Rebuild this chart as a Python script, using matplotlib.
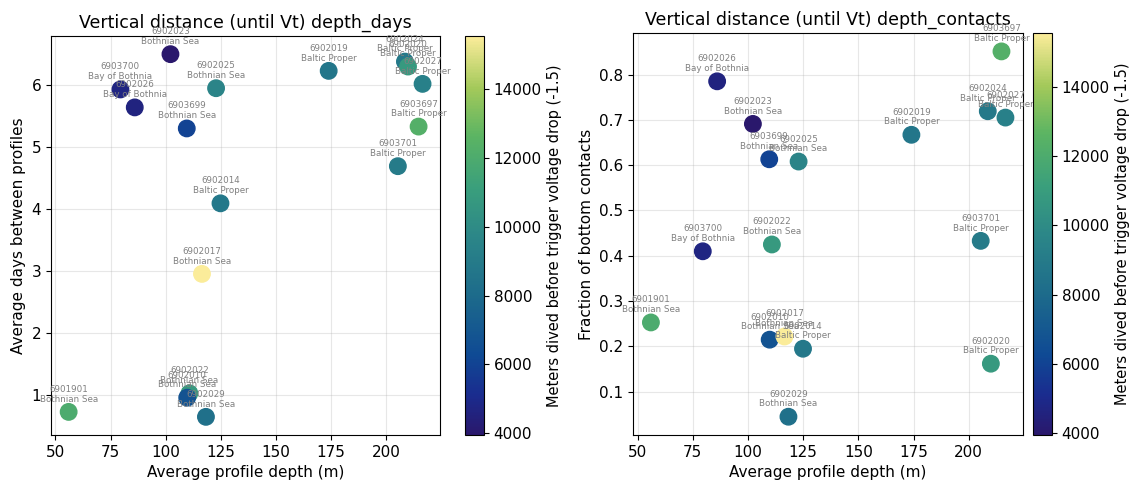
import numpy as np
import matplotlib.pyplot as plt
from matplotlib.colors import LinearSegmentedColormap

# float data: id, region, average profile depth, days between profiles,
# fraction of bottom contacts, meters dived before Vt trigger
float_ids = ["6901901", "6903700", "6902026", "6902023", "6903699", "6902022",
             "6902010", "6902017", "6902029", "6902025", "6902014", "6902019",
             "6903701", "6902024", "6902020", "6903697", "6902027"]
regions = ["Bothnian Sea", "Bay of Bothnia", "Bay of Bothnia", "Bothnian Sea",
           "Bothnian Sea", "Bothnian Sea", "Bothnian Sea", "Bothnian Sea",
           "Bothnian Sea", "Bothnian Sea", "Baltic Proper", "Baltic Proper",
           "Baltic Proper", "Baltic Proper", "Baltic Proper", "Baltic Proper",
           "Baltic Proper"]
depth = [56.0, 79.5, 86.0, 102.2, 109.6, 110.8, 109.8, 116.5, 118.3, 122.9,
         124.9, 174.0, 205.4, 208.6, 210.0, 214.8, 216.6]
days = [0.72, 5.93, 5.64, 6.50, 5.30, 1.02, 0.95, 2.95, 0.64, 5.95,
        4.09, 6.23, 4.69, 6.38, 6.30, 5.33, 6.02]
contacts = [0.253, 0.410, 0.785, 0.691, 0.613, 0.425, 0.215, 0.222, 0.045, 0.608,
            0.195, 0.667, 0.433, 0.719, 0.162, 0.851, 0.705]
meters_dived = [12000, 4700, 4600, 3950, 6000, 10800, 6800, 15550, 8300, 9600,
                8800, 8700, 9000, 8900, 10800, 12300, 9300]

# haline-like colormap (navy -> blue -> teal -> green -> pale yellow)
haline = LinearSegmentedColormap.from_list("haline", [
    (0.00, "#2a186c"), (0.10, "#1a2c8f"), (0.20, "#0f4a94"),
    (0.35, "#1d6b8b"), (0.50, "#2c8788"), (0.62, "#3a9f7c"),
    (0.75, "#5bb463"), (0.87, "#a3c95a"), (1.00, "#fbec9a")])

fig = plt.figure(figsize=(11.45, 4.83), dpi=100)

ax1 = fig.add_axes([0.0445, 0.0994, 0.340, 0.826])
cax1 = fig.add_axes([0.406, 0.0994, 0.0166, 0.826])
ax2 = fig.add_axes([0.553, 0.0994, 0.3406, 0.832])
cax2 = fig.add_axes([0.902, 0.0994, 0.0166, 0.832])

vmin, vmax = min(meters_dived), max(meters_dived)


def plot_panel(ax, cax, yvals, ylabel, title):
    sc = ax.scatter(depth, yvals, c=meters_dived, cmap=haline, s=140,
                    vmin=vmin, vmax=vmax, zorder=3)
    for fid, reg, x, y in zip(float_ids, regions, depth, yvals):
        ax.annotate(f"{fid}\n{reg}", (x, y), xytext=(0, 6),
                    textcoords="offset points", ha="center", va="bottom",
                    fontsize=6.3, color="gray", linespacing=1.1, zorder=4)
    ax.set_xlabel("Average profile depth (m)", fontsize=11)
    ax.set_ylabel(ylabel, fontsize=11)
    ax.set_title(title, fontsize=12.5)
    ax.grid(True, alpha=0.3)
    ax.set_xticks([50, 75, 100, 125, 150, 175, 200])
    ax.tick_params(labelsize=11)
    cb = fig.colorbar(sc, cax=cax)
    cb.set_label("Meters dived before trigger voltage drop (-1.5)", fontsize=10.5)
    cb.set_ticks([4000, 6000, 8000, 10000, 12000, 14000])
    cb.ax.tick_params(labelsize=11)


plot_panel(ax1, cax1, days, "Average days between profiles",
           "Vertical distance (until Vt) depth_days")
plot_panel(ax2, cax2, contacts, "Fraction of bottom contacts",
           "Vertical distance (until Vt) depth_contacts")

fig.savefig("out.png", dpi=100)
